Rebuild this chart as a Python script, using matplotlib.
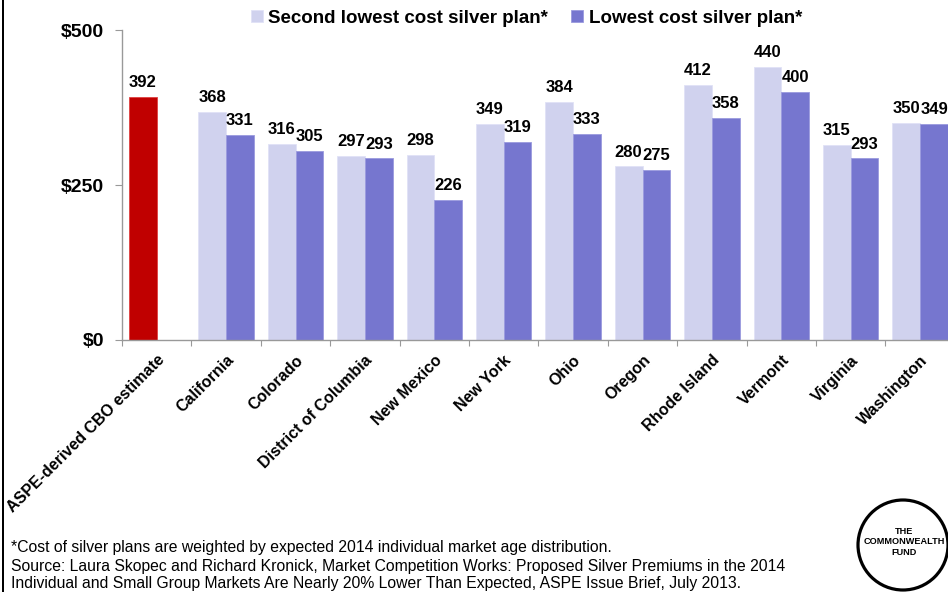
import numpy as np
import matplotlib.pyplot as plt
from matplotlib.patches import Ellipse, Rectangle

categories = ["ASPE-derived CBO estimate", "California", "Colorado",
              "District of Columbia", "New Mexico", "New York", "Ohio",
              "Oregon", "Rhode Island", "Vermont", "Virginia", "Washington"]
cbo_estimate = 392
second_lowest = [368, 316, 297, 298, 349, 384, 280, 412, 440, 315, 350]
lowest = [331, 305, 293, 226, 319, 333, 275, 358, 400, 293, 349]
legend_labels = ["Second lowest cost silver plan*", "Lowest cost silver plan*"]
yticks = [0, 250, 500]
ytick_labels = ["$0", "$250", "$500"]

plt.rcParams['font.family'] = ['Liberation Sans', 'DejaVu Sans']

light = "#d0d2ee"
dark = "#7676cf"
red = "#c00000"

fig = plt.figure(figsize=(9.48, 5.92), dpi=100)
ax = fig.add_axes([0.1287, 0.4257, 0.8785, 0.5236])

w = 0.4
x_states = np.arange(1, len(categories))
ax.bar([0 - w / 2], [cbo_estimate], width=w, color=red, edgecolor="#e04040", linewidth=0.6)
b1 = ax.bar(x_states - w / 2, second_lowest, width=w, color=light,
            edgecolor="#e0e2f6", linewidth=0.6, label=legend_labels[0])
b2 = ax.bar(x_states + w / 2, lowest, width=w, color=dark,
            edgecolor="#9a9ade", linewidth=0.6, label=legend_labels[1])

lab_kw = dict(ha="center", va="bottom", fontsize=12, fontweight="bold")
off = 11
ax.text(0 - w / 2, cbo_estimate + off, str(cbo_estimate), **lab_kw)
for xi, v in zip(x_states, second_lowest):
    ax.text(xi - w / 2, v + off, str(v), **lab_kw)
for xi, v in zip(x_states, lowest):
    ax.text(xi + w / 2, v + off, str(v), **lab_kw)

ax.set_xlim(-0.5, len(categories) - 0.5)
ax.set_ylim(0, 500)
ax.set_yticks(yticks)
ax.set_yticklabels(ytick_labels, fontsize=14, fontweight="bold")
ax.set_xticks(np.arange(len(categories) + 1) - 0.5)
ax.set_xticklabels([])
ax.tick_params(axis="x", length=4, color="#999999", direction="out")
ax.tick_params(axis="y", length=5, color="#999999", direction="out", pad=8)
for xi, name in enumerate(categories):
    ax.text(xi, -20, name, rotation=45, rotation_mode="anchor",
            ha="right", va="top", fontsize=11.5, fontweight="bold")

for s in ["top", "right"]:
    ax.spines[s].set_visible(False)
for s in ["left", "bottom"]:
    ax.spines[s].set_color("#999999")
    ax.spines[s].set_linewidth(1)

leg = fig.legend(handles=[b1, b2], loc="upper left", bbox_to_anchor=(0.2465, 1.012),
                 ncol=2, frameon=False, handlelength=0.65, handleheight=0.65,
                 handletextpad=0.3, columnspacing=1.2,
                 prop={"size": 13.5, "weight": "bold"})

# left border line
fig.add_artist(Rectangle((0.002, 0), 0.002, 1, transform=fig.transFigure,
                         color="black", lw=0))

fig.text(0.0115, 1 - 552 / 592, "*Cost of silver plans are weighted by expected 2014 individual market age distribution.",
         fontsize=11.3, va="baseline")
fig.text(0.0115, 1 - 571 / 592, "Source: Laura Skopec and Richard Kronick, Market Competition Works: Proposed Silver Premiums in the 2014",
         fontsize=11.3, va="baseline")
fig.text(0.0115, 1 - 588 / 592, "Individual and Small Group Markets Are Nearly 20% Lower Than Expected, ASPE Issue Brief, July 2013.",
         fontsize=11.3, va="baseline")

# logo
cx, cy, r = 903, 545, 45
fig.add_artist(Ellipse((cx / 948, 1 - cy / 592), 2 * r / 948, 2 * r / 592,
                       transform=fig.transFigure,
                       facecolor="white", edgecolor="black", lw=2.3))
fig.text(904.5 / 948, 1 - 542 / 592, "THE\nCOMMONWEALTH\nFUND", ha="center", va="center",
         fontsize=6.6, fontweight="bold", linespacing=1.2)

fig.savefig("out.png", dpi=100)
